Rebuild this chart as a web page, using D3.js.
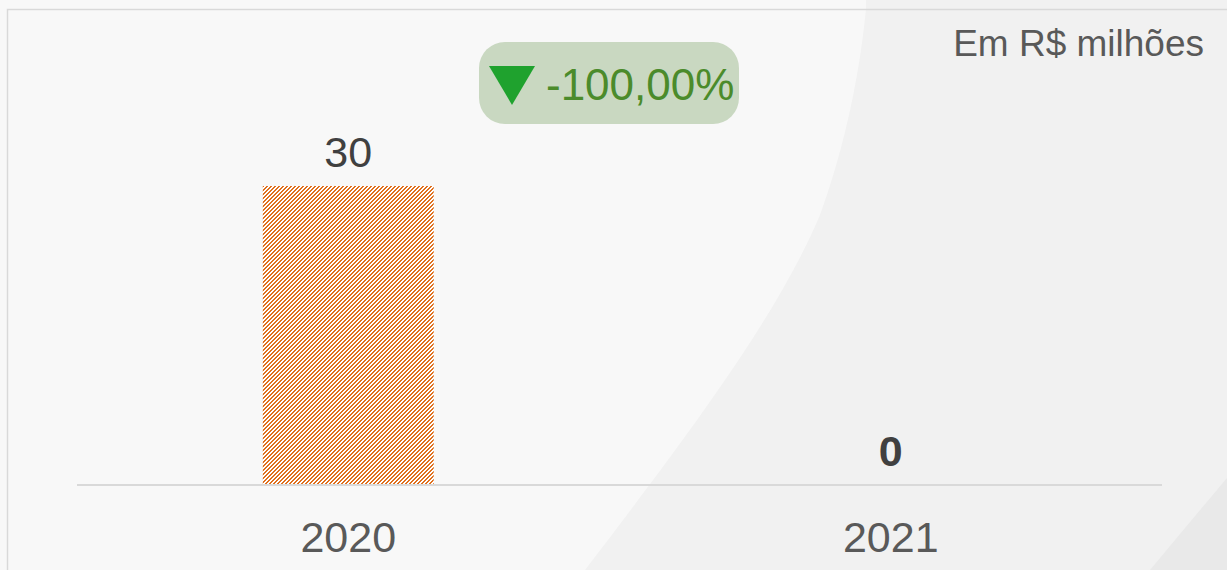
<!DOCTYPE html>
<html>
<head>
<meta charset="utf-8">
<script src="https://cdn.jsdelivr.net/npm/d3@7"></script>
<style>
  html, body { margin: 0; padding: 0; background: #f8f8f8; }
  svg { display: block; }
  text { font-family: "Liberation Sans", Arial, sans-serif; }
</style>
</head>
<body>
<svg id="chart" width="1227" height="570"></svg>
<script>
// ---- data ----
const categories = ["2020", "2021"];
const values = [30, 0];
const valueLabels = ["30", "0"];
const boldLabel = [false, true];
const changeLabel = "-100,00%";
const unitLabel = "Em R$ milhões";

const W = 1227, H = 570;
const svg = d3.select("#chart");

// ---- background ----
svg.append("rect").attr("width", W).attr("height", H).attr("fill", "#f8f8f8");
svg.append("path")
  .attr("d", "M866,0 L866,9 C858,90 840,160 820,215 C780,310 700,420 585,570 L1227,570 L1227,0 Z")
  .attr("fill", "#f1f1f1");
svg.append("path")
  .attr("d", "M1227,478 C1200,510 1175,540 1150,570 L1227,570 Z")
  .attr("fill", "#e9e9e9");
// frame
svg.append("path")
  .attr("d", "M7.5,570 L7.5,9.5 L1227,9.5")
  .attr("fill", "none").attr("stroke", "#d9d9d9").attr("stroke-width", 1.5);

// ---- hatch pattern ----
const defs = svg.append("defs");
const pat = defs.append("pattern")
  .attr("id", "hatch").attr("patternUnits", "userSpaceOnUse")
  .attr("width", 4).attr("height", 4);
pat.append("rect").attr("width", 4).attr("height", 4).attr("fill", "#ffffff");
for (let yy = 0; yy < 4; yy++) {
  for (let xx = 0; xx < 4; xx++) {
    if (((xx + yy) % 4) < 2) {
      pat.append("rect").attr("x", xx).attr("y", yy).attr("width", 1).attr("height", 1)
        .attr("fill", "#e0701e").attr("shape-rendering", "crispEdges");
    }
  }
}

// ---- scales ----
const x = d3.scaleBand().domain(categories).range([77, 1162]).padding(0);
const y = d3.scaleLinear().domain([0, 30]).range([485, 186]);
const barW = x.bandwidth() * 0.315;

// bars
svg.append("g").selectAll("rect").data(categories).join("rect")
  .attr("x", d => x(d) + x.bandwidth() / 2 - barW / 2)
  .attr("y", (d, i) => y(values[i]))
  .attr("width", barW)
  .attr("height", (d, i) => y(0) - y(values[i]))
  .attr("fill", "url(#hatch)");

// baseline
svg.append("line")
  .attr("x1", 77).attr("x2", 1162).attr("y1", y(0)).attr("y2", y(0))
  .attr("stroke", "#d9d9d9").attr("stroke-width", 2);

// category labels
svg.append("g").selectAll("text").data(categories).join("text")
  .attr("x", d => x(d) + x.bandwidth() / 2)
  .attr("y", 552)
  .attr("text-anchor", "middle")
  .attr("font-size", 43)
  .attr("fill", "#595959")
  .text(d => d);

// value labels
svg.append("g").selectAll("text").data(categories).join("text")
  .attr("x", d => x(d) + x.bandwidth() / 2)
  .attr("y", (d, i) => y(values[i]) - 19)
  .attr("text-anchor", "middle")
  .attr("font-size", 43)
  .attr("font-weight", (d, i) => boldLabel[i] ? "bold" : "normal")
  .attr("fill", (d, i) => boldLabel[i] ? "#404040" : "#404040")
  .text((d, i) => valueLabels[i]);

// unit label
svg.append("text")
  .attr("x", 1204).attr("y", 56)
  .attr("text-anchor", "end")
  .attr("font-size", 37)
  .attr("fill", "#595959")
  .text(unitLabel);

// change badge
const badge = svg.append("g");
badge.append("rect")
  .attr("x", 479).attr("y", 42).attr("width", 260).attr("height", 82)
  .attr("rx", 26).attr("ry", 26)
  .attr("fill", "#c9d8c1");
badge.append("path")
  .attr("d", "M489,66 L535,66 L512,105 Z")
  .attr("fill", "#1fa22e");
badge.append("text")
  .attr("x", 546).attr("y", 100)
  .attr("font-size", 44)
  .attr("fill", "#4b8b2b")
  .text(changeLabel);
</script>
</body>
</html>
